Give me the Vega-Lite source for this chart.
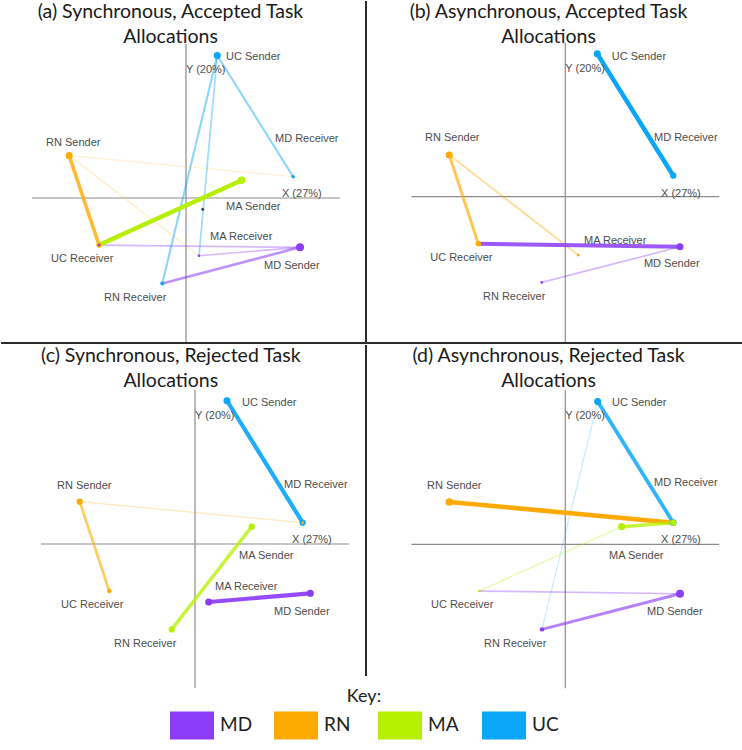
{
  "$schema": "https://vega.github.io/schema/vega-lite/v6.json",
  "background": "white",
  "padding": 0,
  "spacing": -1,
  "config": {
    "concat": {"spacing": 0},
    "view": {"stroke": null},
    "title": {"font": "Lato", "fontSize": 19.5, "fontWeight": "normal", "color": "#1a1a1a", "lineHeight": 25, "offset": -47, "anchor": "middle", "frame": "group"},
    "legend": {"direction": "horizontal", "columns": 4, "gridAlign": "all", "titleOrient": "top", "titleAnchor": "middle", "titleFont": "Lato", "titleFontSize": 18, "titleFontWeight": "normal", "titleColor": "#222", "titlePadding": -3, "labelFont": "Lato", "labelFontSize": 19, "labelColor": "#222", "labelOffset": 6, "symbolType": "M-1,-0.64H1V0.64H-1Z", "symbolSize": 1936, "symbolStrokeWidth": 0, "symbolOpacity": 1, "columnPadding": 21, "padding": 0}
  },
  "datasets": {
    "pos": [
      {"k": "a|UC Sender", "x": 5.49, "y": 18.5},
      {"k": "a|MD Receiver", "x": 18.8, "y": 2.77},
      {"k": "a|RN Sender", "x": -20.5, "y": 5.5},
      {"k": "a|MA Sender", "x": 9.77, "y": 2.3},
      {"k": "a|MA Receiver", "x": 2.28, "y": -7.5},
      {"k": "a|UC Receiver", "x": -15.26, "y": -6.11},
      {"k": "a|MD Sender", "x": 20.0, "y": -6.41},
      {"k": "a|RN Receiver", "x": -4.16, "y": -11.09},
      {"k": "b|UC Sender", "x": 5.61, "y": 18.56},
      {"k": "b|MD Receiver", "x": 18.95, "y": 2.73},
      {"k": "b|RN Sender", "x": -20.35, "y": 5.42},
      {"k": "b|UC Receiver", "x": -15.26, "y": -6.11},
      {"k": "b|MA Receiver", "x": 2.28, "y": -7.58},
      {"k": "b|MD Sender", "x": 20.12, "y": -6.5},
      {"k": "b|RN Receiver", "x": -4.14, "y": -11.13},
      {"k": "c|UC Sender", "x": 5.61, "y": 18.6},
      {"k": "c|MD Receiver", "x": 18.89, "y": 2.77},
      {"k": "c|RN Sender", "x": -20.23, "y": 5.5},
      {"k": "c|MA Sender", "x": 9.95, "y": 2.25},
      {"k": "c|MA Receiver", "x": 2.4, "y": -7.54},
      {"k": "c|UC Receiver", "x": -15.04, "y": -6.11},
      {"k": "c|MD Sender", "x": 20.23, "y": -6.41},
      {"k": "c|RN Receiver", "x": -4.09, "y": -11.09},
      {"k": "d|UC Sender", "x": 5.68, "y": 18.54},
      {"k": "d|MD Receiver", "x": 18.95, "y": 2.81},
      {"k": "d|RN Sender", "x": -20.35, "y": 5.5},
      {"k": "d|MA Sender", "x": 9.89, "y": 2.29},
      {"k": "d|UC Receiver", "x": -15.09, "y": -6.07},
      {"k": "d|MD Sender", "x": 20.12, "y": -6.42},
      {"k": "d|RN Receiver", "x": -4.09, "y": -11.05}
    ],
    "edges": [
      {"p": "a", "from": "UC Sender", "to": "MD Receiver", "role": "UC", "s": 2.3},
      {"p": "a", "from": "UC Sender", "to": "RN Receiver", "role": "UC", "s": 2.3},
      {"p": "a", "from": "UC Sender", "to": "MA Receiver", "role": "UC", "s": 1.9},
      {"p": "a", "from": "RN Sender", "to": "MD Receiver", "role": "RN", "s": 1},
      {"p": "a", "from": "RN Sender", "to": "MA Receiver", "role": "RN", "s": 1.2},
      {"p": "a", "from": "RN Sender", "to": "UC Receiver", "role": "RN", "s": 4},
      {"p": "a", "from": "MD Sender", "to": "UC Receiver", "role": "MD", "s": 1.8},
      {"p": "a", "from": "MD Sender", "to": "MA Receiver", "role": "MD", "s": 1.8},
      {"p": "a", "from": "MD Sender", "to": "RN Receiver", "role": "MD", "s": 2.8},
      {"p": "a", "from": "MA Sender", "to": "UC Receiver", "role": "MA", "s": 5},
      {"p": "b", "from": "UC Sender", "to": "MD Receiver", "role": "UC", "s": 5},
      {"p": "b", "from": "RN Sender", "to": "UC Receiver", "role": "RN", "s": 3.3},
      {"p": "b", "from": "RN Sender", "to": "MA Receiver", "role": "RN", "s": 2},
      {"p": "b", "from": "MD Sender", "to": "RN Receiver", "role": "MD", "s": 1.8},
      {"p": "b", "from": "MD Sender", "to": "UC Receiver", "role": "MD", "s": 4.3},
      {"p": "c", "from": "UC Sender", "to": "MD Receiver", "role": "UC", "s": 4.6},
      {"p": "c", "from": "RN Sender", "to": "MD Receiver", "role": "RN", "s": 1.3},
      {"p": "c", "from": "RN Sender", "to": "UC Receiver", "role": "RN", "s": 3},
      {"p": "c", "from": "MA Sender", "to": "RN Receiver", "role": "MA", "s": 3.8},
      {"p": "c", "from": "MD Sender", "to": "MA Receiver", "role": "MD", "s": 4.6},
      {"p": "d", "from": "UC Sender", "to": "RN Receiver", "role": "UC", "s": 1.2},
      {"p": "d", "from": "UC Sender", "to": "MD Receiver", "role": "UC", "s": 4.2},
      {"p": "d", "from": "RN Sender", "to": "MD Receiver", "role": "RN", "s": 5},
      {"p": "d", "from": "MA Sender", "to": "UC Receiver", "role": "MA", "s": 1.5},
      {"p": "d", "from": "MA Sender", "to": "MD Receiver", "role": "MA", "s": 3.8},
      {"p": "d", "from": "MD Sender", "to": "UC Receiver", "role": "MD", "s": 1.8},
      {"p": "d", "from": "MD Sender", "to": "RN Receiver", "role": "MD", "s": 3.2}
    ],
    "dots": [
      {"p": "a", "node": "UC Sender", "role": "UC", "w": 8},
      {"p": "a", "node": "RN Sender", "role": "RN", "w": 8},
      {"p": "a", "node": "MA Sender", "role": "MA", "w": 8.5},
      {"p": "a", "node": "MD Sender", "role": "MD", "w": 9},
      {"p": "a", "node": "MD Receiver", "role": "UC", "w": 4},
      {"p": "a", "node": "RN Receiver", "role": "UC", "w": 4.5},
      {"p": "a", "node": "UC Receiver", "role": "RN", "w": 6},
      {"p": "a", "node": "UC Receiver", "role": "MD", "w": 3},
      {"p": "a", "node": "MA Receiver", "role": "MD", "w": 3},
      {"p": "b", "node": "UC Sender", "role": "UC", "w": 8},
      {"p": "b", "node": "MD Receiver", "role": "UC", "w": 7},
      {"p": "b", "node": "RN Sender", "role": "RN", "w": 8},
      {"p": "b", "node": "UC Receiver", "role": "RN", "w": 6},
      {"p": "b", "node": "MA Receiver", "role": "RN", "w": 3},
      {"p": "b", "node": "MD Sender", "role": "MD", "w": 8},
      {"p": "b", "node": "RN Receiver", "role": "MD", "w": 3},
      {"p": "c", "node": "UC Sender", "role": "UC", "w": 8},
      {"p": "c", "node": "MD Receiver", "role": "UC", "w": 7},
      {"p": "c", "node": "MD Receiver", "role": "RN", "w": 3.5},
      {"p": "c", "node": "RN Sender", "role": "RN", "w": 7},
      {"p": "c", "node": "UC Receiver", "role": "RN", "w": 5},
      {"p": "c", "node": "MA Sender", "role": "MA", "w": 7},
      {"p": "c", "node": "RN Receiver", "role": "MA", "w": 7},
      {"p": "c", "node": "MD Sender", "role": "MD", "w": 8},
      {"p": "c", "node": "MA Receiver", "role": "MD", "w": 8},
      {"p": "d", "node": "UC Sender", "role": "UC", "w": 8},
      {"p": "d", "node": "MD Receiver", "role": "UC", "w": 7.5},
      {"p": "d", "node": "MD Receiver", "role": "MA", "w": 7},
      {"p": "d", "node": "RN Sender", "role": "RN", "w": 8.5},
      {"p": "d", "node": "MA Sender", "role": "MA", "w": 8},
      {"p": "d", "node": "UC Receiver", "role": "MA", "w": 3},
      {"p": "d", "node": "MD Sender", "role": "MD", "w": 9},
      {"p": "d", "node": "RN Receiver", "role": "MD", "w": 5}
    ],
    "specks": [
      {"p": "a", "x": 2.93, "y": -1.47}
    ],
    "labels": [
      {"p": "a", "t": "UC Sender", "x": 7.02, "y": 18.34},
      {"p": "a", "t": "Y (20%)", "x": 0, "y": 16.65},
      {"p": "a", "t": "MD Receiver", "x": 15.61, "y": 7.67},
      {"p": "a", "t": "X (27%)", "x": 16.84, "y": 0.52},
      {"p": "a", "t": "RN Sender", "x": -24.56, "y": 7.15},
      {"p": "a", "t": "MA Sender", "x": 7.02, "y": -1.17},
      {"p": "a", "t": "MA  Receiver", "x": 4.21, "y": -5.07},
      {"p": "a", "t": "UC Receiver", "x": -23.68, "y": -7.93},
      {"p": "a", "t": "MD Sender", "x": 13.68, "y": -8.84},
      {"p": "a", "t": "RN Receiver", "x": -14.39, "y": -13.0},
      {"p": "b", "t": "UC Sender", "x": 8.14, "y": 18.2},
      {"p": "b", "t": "Y (20%)", "x": 0, "y": 16.6},
      {"p": "b", "t": "MD Receiver", "x": 15.56, "y": 7.63},
      {"p": "b", "t": "X (27%)", "x": 16.79, "y": 0.35},
      {"p": "b", "t": "RN Sender", "x": -24.6, "y": 7.63},
      {"p": "b", "t": "UC Receiver", "x": -23.7, "y": -7.93},
      {"p": "b", "t": "MA  Receiver", "x": 3.28, "y": -5.72},
      {"p": "b", "t": "MD Sender", "x": 13.8, "y": -8.79},
      {"p": "b", "t": "RN Receiver", "x": -14.44, "y": -13.0},
      {"p": "c", "t": "UC Sender", "x": 8.25, "y": 18.3},
      {"p": "c", "t": "Y (20%)", "x": 0, "y": 16.65},
      {"p": "c", "t": "MD Receiver", "x": 15.61, "y": 7.63},
      {"p": "c", "t": "X (27%)", "x": 17.02, "y": 0.48},
      {"p": "c", "t": "RN Sender", "x": -24.2, "y": 7.54},
      {"p": "c", "t": "MA Sender", "x": 7.72, "y": -1.56},
      {"p": "c", "t": "MA  Receiver", "x": 3.51, "y": -5.55},
      {"p": "c", "t": "UC Receiver", "x": -23.5, "y": -7.93},
      {"p": "c", "t": "MD Sender", "x": 13.86, "y": -8.8},
      {"p": "c", "t": "RN Receiver", "x": -14.21, "y": -13.04},
      {"p": "d", "t": "UC Sender", "x": 8.19, "y": 18.34},
      {"p": "d", "t": "Y (20%)", "x": 0, "y": 16.6},
      {"p": "d", "t": "MD Receiver", "x": 15.56, "y": 7.93},
      {"p": "d", "t": "X (27%)", "x": 16.79, "y": 0.52},
      {"p": "d", "t": "RN Sender", "x": -24.26, "y": 7.58},
      {"p": "d", "t": "MA Sender", "x": 7.67, "y": -1.52},
      {"p": "d", "t": "UC Receiver", "x": -23.56, "y": -7.89},
      {"p": "d", "t": "MD Sender", "x": 14.33, "y": -8.77},
      {"p": "d", "t": "RN Receiver", "x": -14.26, "y": -13.0}
    ]
  },
  "vconcat": [
    {
      "spacing": 0,
      "bounds": "flush",
      "hconcat": [
        {
          "width": 366, "height": 343,
          "title": {"text": ["(a) Synchronous, Accepted Task", "Allocations"], "dx": -12.5},
          "layer": [
            {"data": {"values": [{}]}, "mark": {"type": "rule", "color": "#8c8c8c", "strokeWidth": 1.2},
             "encoding": {"x": {"datum": 0, "type": "quantitative", "scale": {"domain": [-32.63, 31.58], "nice": false, "zero": false}, "axis": null},
                          "y": {"datum": 20, "type": "quantitative", "scale": {"domain": [-18.83, 25.71], "nice": false, "zero": false}, "axis": null},
                          "y2": {"datum": -18.83}}},
            {"data": {"values": [{}]}, "mark": {"type": "rule", "color": "#8c8c8c", "strokeWidth": 1.2},
             "encoding": {"x": {"datum": -27, "type": "quantitative", "scale": {"domain": [-32.63, 31.58], "nice": false, "zero": false}, "axis": null},
                          "x2": {"datum": 27},
                          "y": {"datum": 0, "type": "quantitative", "scale": {"domain": [-18.83, 25.71], "nice": false, "zero": false}, "axis": null}}},
            {"data": {"values": [{}]}, "mark": {"type": "rule", "color": "#2b2b2b", "strokeWidth": 2},
             "encoding": {"x": {"datum": 31.58, "type": "quantitative", "scale": {"domain": [-32.63, 31.58], "nice": false, "zero": false}, "axis": null},
                          "y": {"datum": 25.58, "type": "quantitative", "scale": {"domain": [-18.83, 25.71], "nice": false, "zero": false}, "axis": null},
                          "y2": {"datum": -18.83}}},
            {"data": {"values": [{}]}, "mark": {"type": "rule", "color": "#2b2b2b", "strokeWidth": 2},
             "encoding": {"x": {"datum": -32.45, "type": "quantitative", "scale": {"domain": [-32.63, 31.58], "nice": false, "zero": false}, "axis": null},
                          "x2": {"datum": 31.58},
                          "y": {"datum": -18.83, "type": "quantitative", "scale": {"domain": [-18.83, 25.71], "nice": false, "zero": false}, "axis": null}}},
            {"data": {"name": "edges"},
             "transform": [
               {"filter": "datum.p == 'a'"},
               {"calculate": "datum.p + '|' + datum.from", "as": "kf"},
               {"calculate": "datum.p + '|' + datum.to", "as": "kt"},
               {"lookup": "kf", "from": {"data": {"name": "pos"}, "key": "k", "fields": ["x", "y"]}, "as": ["x", "y"]},
               {"lookup": "kt", "from": {"data": {"name": "pos"}, "key": "k", "fields": ["x", "y"]}, "as": ["x2", "y2"]}
             ],
             "mark": {"type": "rule", "strokeCap": "round"},
             "encoding": {
               "x": {"field": "x", "type": "quantitative", "scale": {"domain": [-32.63, 31.58], "nice": false, "zero": false}, "axis": null},
               "y": {"field": "y", "type": "quantitative", "scale": {"domain": [-18.83, 25.71], "nice": false, "zero": false}, "axis": null},
               "x2": {"field": "x2"}, "y2": {"field": "y2"},
               "stroke": {"field": "role", "type": "nominal", "scale": {"domain": ["RN", "MD", "MA", "UC"], "range": ["#FFAA00", "#8C3CF8", "#B6F000", "#0AA6F8"]}, "legend": null},
               "strokeWidth": {"field": "s", "type": "quantitative", "scale": {"domain": [1, 5], "range": [1, 4.5]}, "legend": null},
               "opacity": {"field": "s", "type": "quantitative", "scale": {"domain": [1, 5], "range": [0.2, 1]}, "legend": null}
             }},
            {"data": {"name": "dots"},
             "transform": [
               {"filter": "datum.p == 'a'"},
               {"calculate": "datum.p + '|' + datum.node", "as": "kn"},
               {"lookup": "kn", "from": {"data": {"name": "pos"}, "key": "k", "fields": ["x", "y"]}, "as": ["x", "y"]}
             ],
             "mark": {"type": "point", "filled": true, "opacity": 1, "strokeWidth": 0},
             "encoding": {
               "x": {"field": "x", "type": "quantitative", "scale": {"domain": [-32.63, 31.58], "nice": false, "zero": false}, "axis": null},
               "y": {"field": "y", "type": "quantitative", "scale": {"domain": [-18.83, 25.71], "nice": false, "zero": false}, "axis": null},
               "color": {"field": "role", "type": "nominal", "scale": {"domain": ["MD", "RN", "MA", "UC"], "range": ["#8C3CF8", "#FFAA00", "#B6F000", "#0AA6F8"]}, "legend": {"title": "Key:", "orient": "none", "legendX": 170, "legendY": 688, "gridAlign": "all"}},
               "size": {"field": "w", "type": "quantitative", "scale": {"type": "pow", "exponent": 2, "domain": [0, 10], "range": [0, 78.5]}, "legend": null}
             }},
            {"data": {"name": "specks"},
             "transform": [{"filter": "datum.p == 'a'"}],
             "mark": {"type": "point", "filled": true, "color": "#000", "size": 9, "strokeWidth": 0},
             "encoding": {
               "x": {"field": "x", "type": "quantitative", "scale": {"domain": [-32.63, 31.58], "nice": false, "zero": false}, "axis": null},
               "y": {"field": "y", "type": "quantitative", "scale": {"domain": [-18.83, 25.71], "nice": false, "zero": false}, "axis": null}
             }},
            {"data": {"name": "labels"},
             "transform": [{"filter": "datum.p == 'a'"}],
             "mark": {"type": "text", "align": "left", "baseline": "middle", "font": "Liberation Sans", "fontSize": 11, "fill": "#4d4d4d"},
             "encoding": {
               "x": {"field": "x", "type": "quantitative", "scale": {"domain": [-32.63, 31.58], "nice": false, "zero": false}, "axis": null},
               "y": {"field": "y", "type": "quantitative", "scale": {"domain": [-18.83, 25.71], "nice": false, "zero": false}, "axis": null},
               "text": {"field": "t"}
             }}
          ]
        },
        {
          "width": 376, "height": 343,
          "title": {"text": ["(b) Asynchronous, Accepted Task", "Allocations"], "dx": -5.5},
          "layer": [
            {"data": {"values": [{}]}, "mark": {"type": "rule", "color": "#8c8c8c", "strokeWidth": 1.2},
             "encoding": {"x": {"datum": 0, "type": "quantitative", "scale": {"domain": [-34.96, 31.0], "nice": false, "zero": false}, "axis": null},
                          "y": {"datum": 20, "type": "quantitative", "scale": {"domain": [-19.0, 25.55], "nice": false, "zero": false}, "axis": null},
                          "y2": {"datum": -19.0}}},
            {"data": {"values": [{}]}, "mark": {"type": "rule", "color": "#8c8c8c", "strokeWidth": 1.2},
             "encoding": {"x": {"datum": -27, "type": "quantitative", "scale": {"domain": [-34.96, 31.0], "nice": false, "zero": false}, "axis": null},
                          "x2": {"datum": 27},
                          "y": {"datum": 0, "type": "quantitative", "scale": {"domain": [-19.0, 25.55], "nice": false, "zero": false}, "axis": null}}},
            {"data": {"values": [{}]}, "mark": {"type": "rule", "color": "#2b2b2b", "strokeWidth": 2},
             "encoding": {"x": {"datum": -34.96, "type": "quantitative", "scale": {"domain": [-34.96, 31.0], "nice": false, "zero": false}, "axis": null},
                          "x2": {"datum": 31.0},
                          "y": {"datum": -19.0, "type": "quantitative", "scale": {"domain": [-19.0, 25.55], "nice": false, "zero": false}, "axis": null}}},
            {"data": {"name": "edges"},
             "transform": [
               {"filter": "datum.p == 'b'"},
               {"calculate": "datum.p + '|' + datum.from", "as": "kf"},
               {"calculate": "datum.p + '|' + datum.to", "as": "kt"},
               {"lookup": "kf", "from": {"data": {"name": "pos"}, "key": "k", "fields": ["x", "y"]}, "as": ["x", "y"]},
               {"lookup": "kt", "from": {"data": {"name": "pos"}, "key": "k", "fields": ["x", "y"]}, "as": ["x2", "y2"]}
             ],
             "mark": {"type": "rule", "strokeCap": "round"},
             "encoding": {
               "x": {"field": "x", "type": "quantitative", "scale": {"domain": [-34.96, 31.0], "nice": false, "zero": false}, "axis": null},
               "y": {"field": "y", "type": "quantitative", "scale": {"domain": [-19.0, 25.55], "nice": false, "zero": false}, "axis": null},
               "x2": {"field": "x2"}, "y2": {"field": "y2"},
               "stroke": {"field": "role", "type": "nominal", "scale": {"domain": ["RN", "MD", "MA", "UC"], "range": ["#FFAA00", "#8C3CF8", "#B6F000", "#0AA6F8"]}, "legend": null},
               "strokeWidth": {"field": "s", "type": "quantitative", "scale": {"domain": [1, 5], "range": [1, 4.5]}, "legend": null},
               "opacity": {"field": "s", "type": "quantitative", "scale": {"domain": [1, 5], "range": [0.2, 1]}, "legend": null}
             }},
            {"data": {"name": "dots"},
             "transform": [
               {"filter": "datum.p == 'b'"},
               {"calculate": "datum.p + '|' + datum.node", "as": "kn"},
               {"lookup": "kn", "from": {"data": {"name": "pos"}, "key": "k", "fields": ["x", "y"]}, "as": ["x", "y"]}
             ],
             "mark": {"type": "point", "filled": true, "opacity": 1, "strokeWidth": 0},
             "encoding": {
               "x": {"field": "x", "type": "quantitative", "scale": {"domain": [-34.96, 31.0], "nice": false, "zero": false}, "axis": null},
               "y": {"field": "y", "type": "quantitative", "scale": {"domain": [-19.0, 25.55], "nice": false, "zero": false}, "axis": null},
               "color": {"field": "role", "type": "nominal", "scale": {"domain": ["MD", "RN", "MA", "UC"], "range": ["#8C3CF8", "#FFAA00", "#B6F000", "#0AA6F8"]}, "legend": {"title": "Key:", "orient": "none", "legendX": 170, "legendY": 688, "gridAlign": "all"}},
               "size": {"field": "w", "type": "quantitative", "scale": {"type": "pow", "exponent": 2, "domain": [0, 10], "range": [0, 78.5]}, "legend": null}
             }},
            {"data": {"name": "labels"},
             "transform": [{"filter": "datum.p == 'b'"}],
             "mark": {"type": "text", "align": "left", "baseline": "middle", "font": "Liberation Sans", "fontSize": 11, "fill": "#4d4d4d"},
             "encoding": {
               "x": {"field": "x", "type": "quantitative", "scale": {"domain": [-34.96, 31.0], "nice": false, "zero": false}, "axis": null},
               "y": {"field": "y", "type": "quantitative", "scale": {"domain": [-19.0, 25.55], "nice": false, "zero": false}, "axis": null},
               "text": {"field": "t"}
             }}
          ]
        }
      ]
    },
    {
      "spacing": 0,
      "bounds": "flush",
      "hconcat": [
        {
          "width": 366, "height": 347,
          "title": {"text": ["(c) Synchronous, Rejected Task", "Allocations"], "dx": -12.2},
          "layer": [
            {"data": {"values": [{}]}, "mark": {"type": "rule", "color": "#8c8c8c", "strokeWidth": 1.2},
             "encoding": {"x": {"datum": 0, "type": "quantitative", "scale": {"domain": [-34.21, 30.0], "nice": false, "zero": false}, "axis": null},
                          "y": {"datum": 20, "type": "quantitative", "scale": {"domain": [-19.09, 25.97], "nice": false, "zero": false}, "axis": null},
                          "y2": {"datum": -18.7}}},
            {"data": {"values": [{}]}, "mark": {"type": "rule", "color": "#8c8c8c", "strokeWidth": 1.2},
             "encoding": {"x": {"datum": -27, "type": "quantitative", "scale": {"domain": [-34.21, 30.0], "nice": false, "zero": false}, "axis": null},
                          "x2": {"datum": 27},
                          "y": {"datum": 0, "type": "quantitative", "scale": {"domain": [-19.09, 25.97], "nice": false, "zero": false}, "axis": null}}},
            {"data": {"values": [{}]}, "mark": {"type": "rule", "color": "#2b2b2b", "strokeWidth": 2},
             "encoding": {"x": {"datum": 30.0, "type": "quantitative", "scale": {"domain": [-34.21, 30.0], "nice": false, "zero": false}, "axis": null},
                          "y": {"datum": 25.84, "type": "quantitative", "scale": {"domain": [-19.09, 25.97], "nice": false, "zero": false}, "axis": null},
                          "y2": {"datum": -17.14}}},
            {"data": {"name": "edges"},
             "transform": [
               {"filter": "datum.p == 'c'"},
               {"calculate": "datum.p + '|' + datum.from", "as": "kf"},
               {"calculate": "datum.p + '|' + datum.to", "as": "kt"},
               {"lookup": "kf", "from": {"data": {"name": "pos"}, "key": "k", "fields": ["x", "y"]}, "as": ["x", "y"]},
               {"lookup": "kt", "from": {"data": {"name": "pos"}, "key": "k", "fields": ["x", "y"]}, "as": ["x2", "y2"]}
             ],
             "mark": {"type": "rule", "strokeCap": "round"},
             "encoding": {
               "x": {"field": "x", "type": "quantitative", "scale": {"domain": [-34.21, 30.0], "nice": false, "zero": false}, "axis": null},
               "y": {"field": "y", "type": "quantitative", "scale": {"domain": [-19.09, 25.97], "nice": false, "zero": false}, "axis": null},
               "x2": {"field": "x2"}, "y2": {"field": "y2"},
               "stroke": {"field": "role", "type": "nominal", "scale": {"domain": ["RN", "MD", "MA", "UC"], "range": ["#FFAA00", "#8C3CF8", "#B6F000", "#0AA6F8"]}, "legend": null},
               "strokeWidth": {"field": "s", "type": "quantitative", "scale": {"domain": [1, 5], "range": [1, 4.5]}, "legend": null},
               "opacity": {"field": "s", "type": "quantitative", "scale": {"domain": [1, 5], "range": [0.2, 1]}, "legend": null}
             }},
            {"data": {"name": "dots"},
             "transform": [
               {"filter": "datum.p == 'c'"},
               {"calculate": "datum.p + '|' + datum.node", "as": "kn"},
               {"lookup": "kn", "from": {"data": {"name": "pos"}, "key": "k", "fields": ["x", "y"]}, "as": ["x", "y"]}
             ],
             "mark": {"type": "point", "filled": true, "opacity": 1, "strokeWidth": 0},
             "encoding": {
               "x": {"field": "x", "type": "quantitative", "scale": {"domain": [-34.21, 30.0], "nice": false, "zero": false}, "axis": null},
               "y": {"field": "y", "type": "quantitative", "scale": {"domain": [-19.09, 25.97], "nice": false, "zero": false}, "axis": null},
               "color": {"field": "role", "type": "nominal", "scale": {"domain": ["MD", "RN", "MA", "UC"], "range": ["#8C3CF8", "#FFAA00", "#B6F000", "#0AA6F8"]}, "legend": {"title": "Key:", "orient": "none", "legendX": 170, "legendY": 688, "gridAlign": "all"}},
               "size": {"field": "w", "type": "quantitative", "scale": {"type": "pow", "exponent": 2, "domain": [0, 10], "range": [0, 78.5]}, "legend": null}
             }},
            {"data": {"name": "labels"},
             "transform": [{"filter": "datum.p == 'c'"}],
             "mark": {"type": "text", "align": "left", "baseline": "middle", "font": "Liberation Sans", "fontSize": 11, "fill": "#4d4d4d"},
             "encoding": {
               "x": {"field": "x", "type": "quantitative", "scale": {"domain": [-34.21, 30.0], "nice": false, "zero": false}, "axis": null},
               "y": {"field": "y", "type": "quantitative", "scale": {"domain": [-19.09, 25.97], "nice": false, "zero": false}, "axis": null},
               "text": {"field": "t"}
             }}
          ]
        },
        {
          "width": 376, "height": 347,
          "title": {"text": ["(d) Asynchronous, Rejected Task", "Allocations"], "dx": -5.5},
          "layer": [
            {"data": {"values": [{}]}, "mark": {"type": "rule", "color": "#8c8c8c", "strokeWidth": 1.2},
             "encoding": {"x": {"datum": 0, "type": "quantitative", "scale": {"domain": [-34.96, 31.0], "nice": false, "zero": false}, "axis": null},
                          "y": {"datum": 20, "type": "quantitative", "scale": {"domain": [-19.05, 26.01], "nice": false, "zero": false}, "axis": null},
                          "y2": {"datum": -18.7}}},
            {"data": {"values": [{}]}, "mark": {"type": "rule", "color": "#8c8c8c", "strokeWidth": 1.2},
             "encoding": {"x": {"datum": -27, "type": "quantitative", "scale": {"domain": [-34.96, 31.0], "nice": false, "zero": false}, "axis": null},
                          "x2": {"datum": 27},
                          "y": {"datum": 0, "type": "quantitative", "scale": {"domain": [-19.05, 26.01], "nice": false, "zero": false}, "axis": null}}},
            {"data": {"name": "edges"},
             "transform": [
               {"filter": "datum.p == 'd'"},
               {"calculate": "datum.p + '|' + datum.from", "as": "kf"},
               {"calculate": "datum.p + '|' + datum.to", "as": "kt"},
               {"lookup": "kf", "from": {"data": {"name": "pos"}, "key": "k", "fields": ["x", "y"]}, "as": ["x", "y"]},
               {"lookup": "kt", "from": {"data": {"name": "pos"}, "key": "k", "fields": ["x", "y"]}, "as": ["x2", "y2"]}
             ],
             "mark": {"type": "rule", "strokeCap": "round"},
             "encoding": {
               "x": {"field": "x", "type": "quantitative", "scale": {"domain": [-34.96, 31.0], "nice": false, "zero": false}, "axis": null},
               "y": {"field": "y", "type": "quantitative", "scale": {"domain": [-19.05, 26.01], "nice": false, "zero": false}, "axis": null},
               "x2": {"field": "x2"}, "y2": {"field": "y2"},
               "stroke": {"field": "role", "type": "nominal", "scale": {"domain": ["RN", "MD", "MA", "UC"], "range": ["#FFAA00", "#8C3CF8", "#B6F000", "#0AA6F8"]}, "legend": null},
               "strokeWidth": {"field": "s", "type": "quantitative", "scale": {"domain": [1, 5], "range": [1, 4.5]}, "legend": null},
               "opacity": {"field": "s", "type": "quantitative", "scale": {"domain": [1, 5], "range": [0.2, 1]}, "legend": null}
             }},
            {"data": {"name": "dots"},
             "transform": [
               {"filter": "datum.p == 'd'"},
               {"calculate": "datum.p + '|' + datum.node", "as": "kn"},
               {"lookup": "kn", "from": {"data": {"name": "pos"}, "key": "k", "fields": ["x", "y"]}, "as": ["x", "y"]}
             ],
             "mark": {"type": "point", "filled": true, "opacity": 1, "strokeWidth": 0},
             "encoding": {
               "x": {"field": "x", "type": "quantitative", "scale": {"domain": [-34.96, 31.0], "nice": false, "zero": false}, "axis": null},
               "y": {"field": "y", "type": "quantitative", "scale": {"domain": [-19.05, 26.01], "nice": false, "zero": false}, "axis": null},
               "color": {"field": "role", "type": "nominal", "scale": {"domain": ["MD", "RN", "MA", "UC"], "range": ["#8C3CF8", "#FFAA00", "#B6F000", "#0AA6F8"]}, "legend": {"title": "Key:", "orient": "none", "legendX": 170, "legendY": 688, "gridAlign": "all"}},
               "size": {"field": "w", "type": "quantitative", "scale": {"type": "pow", "exponent": 2, "domain": [0, 10], "range": [0, 78.5]}, "legend": null}
             }},
            {"data": {"name": "labels"},
             "transform": [{"filter": "datum.p == 'd'"}],
             "mark": {"type": "text", "align": "left", "baseline": "middle", "font": "Liberation Sans", "fontSize": 11, "fill": "#4d4d4d"},
             "encoding": {
               "x": {"field": "x", "type": "quantitative", "scale": {"domain": [-34.96, 31.0], "nice": false, "zero": false}, "axis": null},
               "y": {"field": "y", "type": "quantitative", "scale": {"domain": [-19.05, 26.01], "nice": false, "zero": false}, "axis": null},
               "text": {"field": "t"}
             }}
          ]
        }
      ]
    }
  ]
}
